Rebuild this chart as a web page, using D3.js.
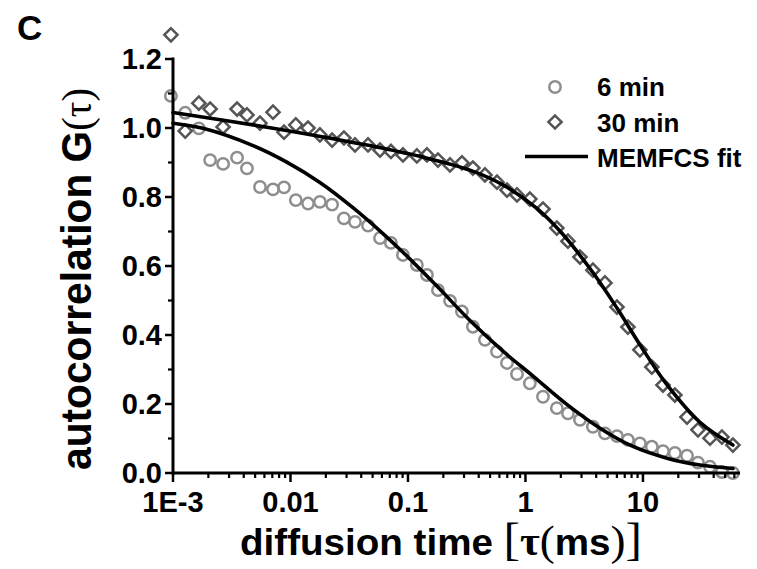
<!DOCTYPE html>
<html>
<head>
<meta charset="utf-8">
<script src="https://cdn.jsdelivr.net/npm/d3@7"></script>
<style>
	body { margin: 0; background: #ffffff; }
	svg { display: block; }
	.text_class_sans { font-family: "Liberation Sans", Arial, sans-serif; font-weight: bold; fill: #000000; }
	.text_class_serif { font-family: "Liberation Serif", "Times New Roman", serif; }
</style>
</head>
<body>
<div id="div_id_main"></div>
<script>

var MAIN_WIDTH = 757;
var MAIN_HEIGHT = 569;

// diffusion time tau (ms), shared by both measurements
var vTau = [0.00096, 0.00127, 0.00166, 0.00207, 0.00267, 0.00351, 0.00426, 0.00550, 0.00710, 0.00881,
			0.0111, 0.0141, 0.0178, 0.0226, 0.0285, 0.0354, 0.0457, 0.0578, 0.0716, 0.0906,
			0.119, 0.145, 0.180, 0.228, 0.288, 0.357, 0.452, 0.572, 0.696, 0.847,
			1.09, 1.41, 1.85, 2.30, 2.91, 3.75, 4.75, 6.01, 7.45, 9.42,
			11.9, 14.8, 18.7, 23.7, 29.4, 37.2, 47.0, 58.3];

var vG_6min = [1.093, 1.044, 0.999, 0.907, 0.896, 0.914, 0.883, 0.829, 0.822, 0.828,
			   0.791, 0.781, 0.786, 0.778, 0.738, 0.728, 0.717, 0.681, 0.667, 0.632,
			   0.603, 0.574, 0.530, 0.499, 0.468, 0.424, 0.386, 0.352, 0.319, 0.287,
			   0.260, 0.221, 0.188, 0.173, 0.154, 0.134, 0.115, 0.107, 0.096, 0.086,
			   0.076, 0.063, 0.058, 0.050, 0.030, 0.018, 0.003, 0.000];

var vG_30min = [1.270, 0.991, 1.072, 1.055, 1.003, 1.055, 1.038, 1.014, 1.046, 0.988,
				1.009, 1.000, 0.980, 0.965, 0.971, 0.951, 0.951, 0.936, 0.932, 0.922,
				0.919, 0.922, 0.907, 0.893, 0.899, 0.884, 0.864, 0.843, 0.820, 0.806,
				0.794, 0.765, 0.710, 0.672, 0.626, 0.588, 0.551, 0.481, 0.423, 0.357,
				0.307, 0.255, 0.226, 0.162, 0.125, 0.101, 0.104, 0.081];

var vFit6_Tau = [0.001, 0.0018, 0.0048, 0.0093, 0.0178, 0.034, 0.0612, 0.0906, 0.177, 0.337,
				 0.644, 1.16, 2.25, 4.31, 8.22, 16.0, 30.6, 58.3];
var vFit6_G = [1.014, 0.999, 0.949, 0.901, 0.842, 0.769, 0.694, 0.640, 0.541, 0.442,
			   0.353, 0.281, 0.199, 0.130, 0.077, 0.043, 0.023, 0.013];

var vFit30_Tau = [0.001, 0.0067, 0.0249, 0.0475, 0.126, 0.337, 0.644, 1.25, 2.08, 3.75,
				  6.01, 9.42, 16.0, 30.6, 58.3];
var vFit30_G = [1.045, 1.001, 0.967, 0.949, 0.918, 0.878, 0.835, 0.767, 0.692, 0.581,
				0.478, 0.372, 0.256, 0.147, 0.081];

var vXTickValues = [0.001, 0.01, 0.1, 1, 10];
var vXTickLabels = ["1E-3", "0.01", "0.1", "1", "10"];
var vYTickValues = [0, 0.2, 0.4, 0.6, 0.8, 1.0, 1.2];
var vYMinorValues = [0.1, 0.3, 0.5, 0.7, 0.9, 1.1];

var vLegendLabels = ["6 min", "30 min", "MEMFCS fit"];

var COLOR_CIRCLE = "#8e8e8e";
var COLOR_DIAMOND = "#555555";

var fScale_X;
var fScale_Y;

function funcDraw_Main() {

	let svgMain = d3.select("#div_id_main")
					.append("svg")
						.attr("width", MAIN_WIDTH)
						.attr("height", MAIN_HEIGHT);

	fScale_X = d3.scaleLog()
					.domain([0.001, 67])
					.range([173, 740]);

	fScale_Y = d3.scaleLinear()
					.domain([0, 1.2])
					.range([473, 59]);

	// ---------------------------------------------------------------

	funcDraw_Markers(svgMain);
	funcDraw_Fits(svgMain);
	funcDraw_Axes(svgMain);
	funcDraw_Titles(svgMain);
	funcDraw_Legend(svgMain);
}

function funcDraw_Markers(svgMain) {

	let dsData = vTau.map(function (t, i) { return {"tau":t, "g6":vG_6min[i], "g30":vG_30min[i]}; });

	svgMain.append("g")
			.selectAll("circle")
			.data(dsData)
			.enter()
			.append("circle")
				.attr("cx", function (d) { return fScale_X(d.tau); })
				.attr("cy", function (d) { return fScale_Y(d.g6); })
				.attr("r", 5.7)
				.attr("fill", "none")
				.attr("stroke", COLOR_CIRCLE)
				.attr("stroke-width", 2.5);

	let symDiamond = d3.symbol().type(d3.symbolSquare).size(87);

	svgMain.append("g")
			.selectAll("path")
			.data(dsData)
			.enter()
			.append("path")
				.attr("d", symDiamond)
				.attr("transform", function (d) { return "translate(" + fScale_X(d.tau) + "," + fScale_Y(d.g30) + ") rotate(45)"; })
				.attr("fill", "none")
				.attr("stroke", COLOR_DIAMOND)
				.attr("stroke-width", 2.5);
}

function funcDraw_Fits(svgMain) {

	let line = d3.line()
					.x(function (d) { return fScale_X(d[0]); })
					.y(function (d) { return fScale_Y(d[1]); })
					.curve(d3.curveCatmullRom.alpha(0.5));

	let vFits = [d3.zip(vFit6_Tau, vFit6_G), d3.zip(vFit30_Tau, vFit30_G)];

	svgMain.append("g")
			.selectAll("path")
			.data(vFits)
			.enter()
			.append("path")
				.attr("d", line)
				.attr("fill", "none")
				.attr("stroke", "#000000")
				.attr("stroke-width", 3.6)
				.attr("stroke-linecap", "round");
}

function funcDraw_Axes(svgMain) {

	let vXMinor = [];

	for (let nDec = -3; nDec <= 1; nDec++) {

		for (let k = 2; k <= 9; k++) {

			let v = k * Math.pow(10, nDec);

			if (v <= fScale_X.domain()[1])
				vXMinor.push(v);
		}
	}

	let gAxis = svgMain.append("g")
						.attr("stroke", "#000000");

	// axis lines
	gAxis.append("line")
			.attr("x1", fScale_X.range()[0]).attr("x2", fScale_X.range()[1])
			.attr("y1", fScale_Y(0)).attr("y2", fScale_Y(0))
			.attr("stroke-width", 3);

	gAxis.append("line")
			.attr("x1", fScale_X.range()[0]).attr("x2", fScale_X.range()[0])
			.attr("y1", fScale_Y(0) + 1.5).attr("y2", fScale_Y(1.2) - 1.5)
			.attr("stroke-width", 3);

	// x ticks
	gAxis.selectAll("line.x_major")
			.data(vXTickValues)
			.enter()
			.append("line")
				.attr("class", "x_major")
				.attr("x1", function (d) { return fScale_X(d); })
				.attr("x2", function (d) { return fScale_X(d); })
				.attr("y1", fScale_Y(0))
				.attr("y2", fScale_Y(0) + 9)
				.attr("stroke-width", 2.5);

	gAxis.selectAll("line.x_minor")
			.data(vXMinor)
			.enter()
			.append("line")
				.attr("class", "x_minor")
				.attr("x1", function (d) { return fScale_X(d); })
				.attr("x2", function (d) { return fScale_X(d); })
				.attr("y1", fScale_Y(0))
				.attr("y2", fScale_Y(0) + 5)
				.attr("stroke-width", 2.2);

	// y ticks
	gAxis.selectAll("line.y_major")
			.data(vYTickValues)
			.enter()
			.append("line")
				.attr("class", "y_major")
				.attr("x1", fScale_X.range()[0] - 8)
				.attr("x2", fScale_X.range()[0])
				.attr("y1", function (d) { return fScale_Y(d); })
				.attr("y2", function (d) { return fScale_Y(d); })
				.attr("stroke-width", 2.5);

	gAxis.selectAll("line.y_minor")
			.data(vYMinorValues)
			.enter()
			.append("line")
				.attr("class", "y_minor")
				.attr("x1", fScale_X.range()[0] - 5)
				.attr("x2", fScale_X.range()[0])
				.attr("y1", function (d) { return fScale_Y(d); })
				.attr("y2", function (d) { return fScale_Y(d); })
				.attr("stroke-width", 2.2);

	// ---------------------------------------------------------------

	svgMain.selectAll("text.text_class_xtick")
			.data(vXTickValues)
			.enter()
			.append("text")
				.attr("class", "text_class_sans text_class_xtick")
				.attr("x", function (d) { return fScale_X(d); })
				.attr("y", 512)
				.attr("text-anchor", "middle")
				.attr("font-size", "29px")
				.text(function (d, i) { return vXTickLabels[i]; });

	svgMain.selectAll("text.text_class_ytick")
			.data(vYTickValues)
			.enter()
			.append("text")
				.attr("class", "text_class_sans text_class_ytick")
				.attr("x", 162)
				.attr("y", function (d) { return fScale_Y(d) + 10; })
				.attr("text-anchor", "end")
				.attr("font-size", "29px")
				.text(function (d) { return d3.format(".1f")(d); });
}

function funcDraw_Titles(svgMain) {

	svgMain.append("text")
			.attr("class", "text_class_sans")
			.attr("x", 17)
			.attr("y", 40)
			.attr("font-size", "35px")
			.text("C");

	// x title
	let textX = svgMain.append("text")
						.attr("class", "text_class_sans")
						.attr("x", 240)
						.attr("y", 555)
						.attr("font-size", "36px")
						.attr("textLength", 402)
						.attr("lengthAdjust", "spacingAndGlyphs");

	textX.append("tspan").text("diffusion time ");
	textX.append("tspan").attr("class", "text_class_serif").attr("font-weight", "normal").attr("font-size", "46px").text("[");
	textX.append("tspan").attr("class", "text_class_serif").attr("font-size", "40px").text("τ");
	textX.append("tspan").attr("class", "text_class_serif").attr("font-weight", "normal").attr("font-size", "42px").text("(");
	textX.append("tspan").text("ms");
	textX.append("tspan").attr("class", "text_class_serif").attr("font-weight", "normal").attr("font-size", "42px").text(")");
	textX.append("tspan").attr("class", "text_class_serif").attr("font-weight", "normal").attr("font-size", "46px").text("]");

	// y title
	let textY = svgMain.append("text")
						.attr("class", "text_class_sans")
						.attr("transform", "translate(91,470) rotate(-90)")
						.attr("font-size", "42px")
						.attr("textLength", 382)
						.attr("lengthAdjust", "spacingAndGlyphs");

	textY.append("tspan").text("autocorrelation G");
	textY.append("tspan").attr("class", "text_class_serif").attr("font-weight", "normal").attr("font-size", "42px").text("(");
	textY.append("tspan").attr("class", "text_class_serif").attr("font-weight", "normal").attr("font-size", "40px").text("τ");
	textY.append("tspan").attr("class", "text_class_serif").attr("font-weight", "normal").attr("font-size", "42px").text(")");
}

function funcDraw_Legend(svgMain) {

	let gLegend = svgMain.append("g");

	gLegend.append("circle")
			.attr("cx", 555)
			.attr("cy", 87)
			.attr("r", 5.7)
			.attr("fill", "none")
			.attr("stroke", COLOR_CIRCLE)
			.attr("stroke-width", 2.5);

	gLegend.append("path")
			.attr("d", d3.symbol().type(d3.symbolSquare).size(87))
			.attr("transform", "translate(555,122) rotate(45)")
			.attr("fill", "none")
			.attr("stroke", COLOR_DIAMOND)
			.attr("stroke-width", 2.5);

	gLegend.append("line")
			.attr("x1", 525)
			.attr("x2", 588)
			.attr("y1", 156.5)
			.attr("y2", 156.5)
			.attr("stroke", "#000000")
			.attr("stroke-width", 3.6);

	gLegend.selectAll("text")
			.data(vLegendLabels)
			.enter()
			.append("text")
				.attr("class", "text_class_sans")
				.attr("x", 597)
				.attr("y", function (d, i) { return 96 + i * 35.5; })
				.attr("font-size", "26px")
				.text(function (d) { return d; });
}

funcDraw_Main();

</script>
</body>
</html>
